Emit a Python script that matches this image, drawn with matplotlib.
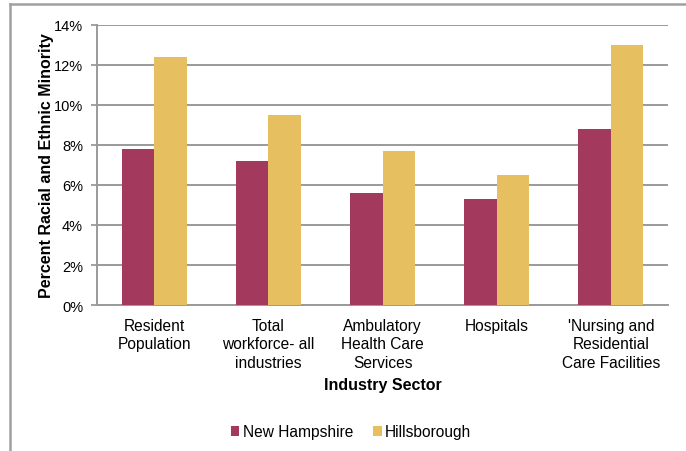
import matplotlib.pyplot as plt
import numpy as np
from matplotlib.lines import Line2D

# values (percent)
categories = ["Resident\nPopulation", "Total\nworkforce- all\nindustries",
              "Ambulatory\nHealth Care\nServices", "Hospitals",
              "'Nursing and\nResidential\nCare Facilities"]
new_hampshire = [7.8, 7.2, 5.6, 5.3, 8.8]
hillsborough = [12.4, 9.5, 7.7, 6.5, 13.0]
y_ticks = [0, 2, 4, 6, 8, 10, 12, 14]

NH_COLOR = "#A33A5E"
HB_COLOR = "#E6C060"
GRID = "#9A9A9A"

fig = plt.figure(figsize=(6.86, 4.52), dpi=100)
ax = fig.add_axes([0.1414, 0.323, 0.8324, 0.6195])

x = np.arange(len(categories))
w = 0.285
ax.bar(x - w/2, new_hampshire, w, color=NH_COLOR, label="New Hampshire", zorder=3)
ax.bar(x + w/2, hillsborough, w, color=HB_COLOR, label="Hillsborough", zorder=3)

ax.set_xlim(-0.5, len(categories) - 0.5)
ax.set_ylim(0, 14)
ax.set_yticks(y_ticks)
ax.set_yticklabels([f"{v}%" for v in y_ticks], fontsize=10.5, family="Liberation Sans")
ax.set_xticks(x)
ax.set_xticklabels(categories, fontsize=11.2, family="Liberation Sans", linespacing=1.3)
ax.tick_params(axis="x", length=0, pad=9)
ax.tick_params(axis="y", length=4, width=1.3, color=GRID, pad=6)

ax.yaxis.grid(True, color=GRID, linewidth=1.4, zorder=0)
for s in ["top", "right"]:
    ax.spines[s].set_visible(False)
for s in ["left", "bottom"]:
    ax.spines[s].set_color(GRID)
    ax.spines[s].set_linewidth(1.4)

ax.set_ylabel("Percent Racial and Ethnic Minority", fontsize=11.5, fontweight="bold",
              family="Liberation Sans", labelpad=0)
ax.set_xlabel("Industry Sector", fontsize=11.5, fontweight="bold",
              family="Liberation Sans", labelpad=5)

leg = fig.legend(loc="center", bbox_to_anchor=(351/686, 1 - 433/452), ncol=2,
                 frameon=False, handlelength=0.55, handleheight=0.55,
                 handletextpad=0.2, columnspacing=1.3,
                 prop={"family": "Liberation Sans", "size": 11.2})

# outer chart frame (top and left edges visible)
fig.add_artist(Line2D([10/686, 1], [1 - 5/452, 1 - 5/452], color="#A0A0A0", lw=1.8,
                      transform=fig.transFigure))
fig.add_artist(Line2D([10/686, 10/686], [0, 1 - 5/452], color="#A0A0A0", lw=1.8,
                      transform=fig.transFigure))

fig.savefig("out.png", dpi=100)
